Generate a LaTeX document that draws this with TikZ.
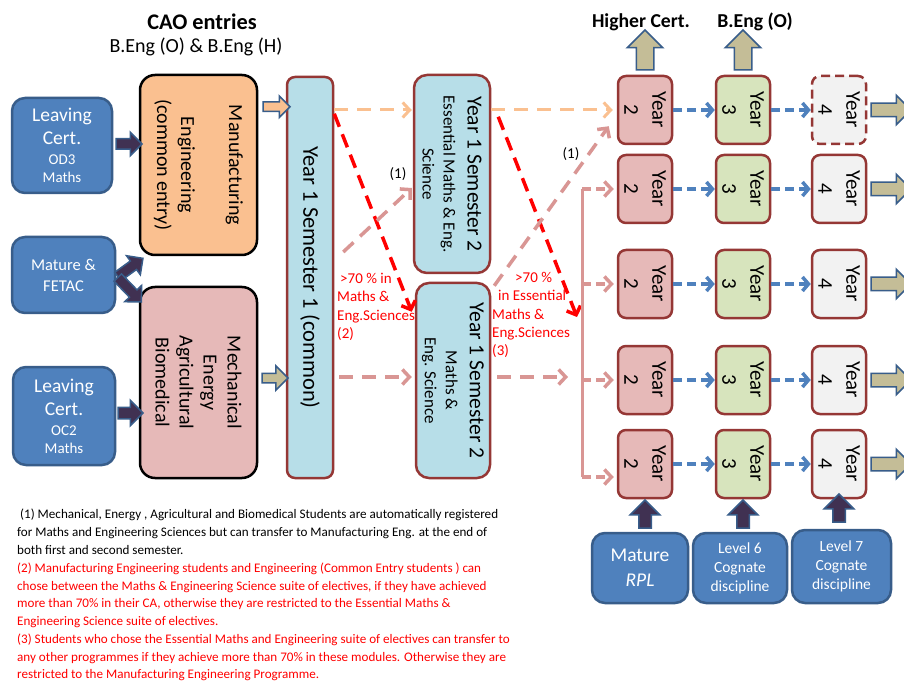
\documentclass[tikz,border=0pt]{standalone}
\usepackage{fontspec}
\setmainfont{Carlito}
\usetikzlibrary{arrows.meta,shapes.arrows,calc}
\definecolor{bfill}{HTML}{4F81BD}
\definecolor{bdraw}{HTML}{385D8A}
\definecolor{dpurp}{HTML}{403152}
\definecolor{tanf}{HTML}{C4BD97}
\definecolor{orf}{HTML}{FAC090}
\definecolor{pinkf}{HTML}{E6B9B8}
\definecolor{lblue}{HTML}{B7DEE8}
\definecolor{dred}{HTML}{953735}
\definecolor{grnf}{HTML}{D7E4BD}
\definecolor{gryf}{HTML}{F2F2F2}
\definecolor{pinkl}{HTML}{D99694}
\definecolor{redt}{HTML}{FF0000}
\newcommand{\smallfs}{\fontsize{15}{18}\selectfont}
\newcommand{\semfs}{\fontsize{17}{21}\selectfont}
\tikzset{
 bluebox/.style={draw=bdraw, fill=bfill, line width=2.5pt, rounded corners=13pt, text=white, align=center, inner sep=0pt},
 progbox/.style={draw=black, line width=2.5pt, rounded corners=15pt, inner sep=0pt},
 semb/.style={draw=dred, fill=lblue, line width=2.5pt, inner sep=0pt},
 ybox/.style={draw=dred, line width=2.5pt, rounded corners=8pt, minimum width=54pt, minimum height=68pt, inner sep=0pt},
 ytext/.style={rotate=-90, align=center, inner sep=0pt, font=\fontsize{21}{28}\selectfont},
 rtext/.style={rotate=-90, align=center, inner sep=0pt},
 blk/.style={single arrow, draw=bdraw, line width=1.5pt, inner xsep=0pt, single arrow tip angle=90, anchor=tail, minimum width=0pt},
 barb/.style={-{Straight Barb[length=7pt,width=15pt]}},
 odash/.style={draw=orf, line width=3pt, dash pattern=on 14pt off 9pt, barb},
 rdash/.style={draw=redt, line width=3.5pt, dash pattern=on 14pt off 8pt, barb},
 pdash/.style={draw=pinkl, line width=3.5pt, dash pattern=on 14pt off 9pt, barb},
 sdash/.style={draw=pinkl, line width=3.5pt, dash pattern=on 9pt off 5pt, barb, shorten >=3pt},
 bldash/.style={draw=bfill, line width=3.5pt, dash pattern=on 9pt off 5pt, -{Straight Barb[length=6pt,width=14pt]}},
 notes/.style={anchor=base west, inner sep=0pt, font=\fontsize{13.1}{16}\selectfont},
 redlab/.style={text=redt, align=left, inner sep=0pt, font=\fontsize{15}{18.3}\selectfont}
}
\begin{document}
\begin{tikzpicture}[x=1pt,y=-1pt]
\clip (0,0) rectangle (904,684);
\fill[white] (0,0) rectangle (904,684);

% titles
\node[font=\fontsize{22.3}{26}\selectfont\bfseries] (cao) at (202,22) {CAO entries};
\node[font=\fontsize{20}{24}\selectfont] (beng) at (196,47) {B.Eng (O) \& B.Eng (H)};
\node[font=\fontsize{19.7}{23}\selectfont\bfseries] (hc) at (641,22) {Higher Cert.};
\node[font=\fontsize{19.7}{23}\selectfont\bfseries] (bo) at (755,22) {B.Eng (O)};

% entry boxes
\node[bluebox, font=\fontsize{19.5}{23}\selectfont, minimum width=100pt, minimum height=95pt] (lc1) at (62,145.5) {Leaving\\Cert.\\[-3pt]\smallfs OD3\\[-5pt]\smallfs Maths};
\node[bluebox, font=\fontsize{16.5}{21}\selectfont, minimum width=103pt, minimum height=76pt] (mat) at (63.5,275) {Mature \&\\FETAC};
\node[bluebox, font=\fontsize{19.5}{23}\selectfont, minimum width=102pt, minimum height=98pt] (lc2) at (64,416) {Leaving\\Cert.\\[-3pt]\smallfs OC2\\[-5pt]\smallfs Maths};

% programme boxes
\node[progbox, fill=orf, minimum width=117pt, minimum height=180pt] (man) at (198.5,165) {};
\node[rtext, font=\fontsize{20}{24}\selectfont] (mant) at (man) {Manufacturing\\[24pt]Engineering\\(common entry)};
\node[progbox, fill=pinkf, minimum width=117pt, minimum height=191pt] (mech) at (198.5,382.5) {};
\node[rtext, font=\fontsize{20}{24}\selectfont] (mecht) at (mech) {Mechanical\\Energy\\Agricultural\\Biomedical};

% semesters
\node[semb, rounded corners=8pt, minimum width=46pt, minimum height=401pt] (s1) at (310,277.5) {};
\node[rtext, font=\fontsize{22.5}{26}\selectfont] (s1t) at (s1) {Year 1 Semester 1 (common)};
\node[semb, rounded corners=13pt, minimum width=76pt, minimum height=198pt] (s2a) at (452,174) {};
\node[rtext, font=\fontsize{21.5}{24}\selectfont] (s2at) at (s2a) {Year 1 Semester 2\\\semfs Essential Maths \& Eng.\\[-3pt]\semfs Science};
\node[semb, rounded corners=13pt, minimum width=74pt, minimum height=195pt] (s2b) at (453,380.5) {};
\node[rtext, font=\fontsize{21.5}{24}\selectfont] (s2bt) at (s2b) {Year 1 Semester 2\\\semfs Maths \&\\[-3pt]\semfs Eng. Science};

% year boxes
\foreach \r/\yy in {1/110,2/189,3/284,4/380,5/464}{
  \node[ybox, fill=pinkf] (y2\r) at (645,\yy) {};
  \node[ytext] (t2\r) at (y2\r) {Year\\2};
  \node[ybox, fill=grnf] (y3\r) at (743,\yy) {};
  \node[ytext] (t3\r) at (y3\r) {Year\\3};
  \draw[bldash] (y2\r) -- (y3\r);
}
\node[ybox, fill=gryf, dash pattern=on 9pt off 5pt] (y41) at (839,110) {};
\node[ytext] (t41) at (y41) {Year\\4};
\foreach \r/\yy in {2/189,3/284,4/380,5/464}{
  \node[ybox, fill=gryf] (y4\r) at (839,\yy) {};
  \node[ytext] (t4\r) at (y4\r) {Year\\4};
}
\foreach \r in {1,...,5}{
  \draw[bldash] (y3\r) -- (y4\r);
  \node[blk, fill=tanf, inner ysep=6pt, single arrow head extend=8pt, minimum height=40pt] (ra\r) at ($(y4\r.east)+(3,0)$) {};
}

% bottom entry boxes
\node[bluebox, font=\fontsize{19.5}{25}\selectfont, minimum width=96pt, minimum height=70pt] (mr) at (640,568) {Mature\\\textit{RPL}};
\node[bluebox, font=\fontsize{15.5}{19}\selectfont, minimum width=94pt, minimum height=70pt] (l6) at (740,568) {Level 6\\Cognate\\discipline};
\node[bluebox, font=\fontsize{15.5}{19}\selectfont, minimum width=99pt, minimum height=73pt] (l7) at (841.5,566.5) {Level 7\\Cognate\\discipline};

% block arrows
\node[blk, fill=dpurp, inner ysep=4.5pt, single arrow head extend=6.5pt, minimum height=26pt] (a1) at ($(lc1.east)+(2,-1.5)$) {};
\node[blk, fill=dpurp, inner ysep=5pt, single arrow head extend=7pt, minimum height=25pt] (a2) at ($(lc2.east)+(1,-3)$) {};
\node[blk, fill=dpurp, inner ysep=4.5pt, single arrow head extend=6.5pt, minimum height=31pt, rotate=36] (a3) at ($(mat.east)+(1,2)$) {};
\node[blk, fill=dpurp, inner ysep=4.5pt, single arrow head extend=6.5pt, minimum height=34pt, rotate=-46] (a4) at ($(mat.east)+(1,2)$) {};
\node[blk, fill=orf, inner ysep=4pt, single arrow head extend=6pt, minimum height=27pt] (a5) at ($(man.north east)+(4,33)$) {};
\node[blk, fill=tanf, inner ysep=4pt, single arrow head extend=7.5pt, minimum height=26pt] (a6) at ($(mech.east)+(3,-4.5)$) {};
\node[blk, fill=tanf, inner ysep=8pt, single arrow head extend=9pt, minimum height=40pt, rotate=90] (u1) at ($(y21.north)+(0,-4)$) {};
\node[blk, fill=tanf, inner ysep=8pt, single arrow head extend=9pt, minimum height=40pt, rotate=90] (u2) at ($(y31.north)+(0,-4)$) {};
\node[blk, fill=dpurp, inner ysep=5.5pt, single arrow head extend=8.5pt, minimum height=28pt, rotate=90] (b1) at ($(y25.south|-mr.north)+(0,-3)$) {};
\node[blk, fill=dpurp, inner ysep=5.5pt, single arrow head extend=8.5pt, minimum height=28pt, rotate=90] (b2) at ($(y35.south|-l6.north)+(0,-3)$) {};
\node[blk, fill=dpurp, inner ysep=5.5pt, single arrow head extend=8.5pt, minimum height=28pt, rotate=90] (b3) at ($(y45.south|-l7.north)+(0,-6)$) {};

% dashed transitions
\draw[odash] (s1.east|-y21.west) -- ($(s2a.west|-y21.west)+(-1,0)$);
\draw[odash] (s2a.east|-y21.west) -- ($(y21.west)+(-4,0)$);
\draw[rdash] ($(s1.north east)+(0,38)$) -- ($(s2b.north west)+(-3,30)$);
\draw[rdash] ($(s2a.north east)+(7,43)$) -- (577,317);
\draw[pdash] ($(s1.east)+(9,-25.5)$) -- ($(s2a.west)+(-1,14)$);
\draw[pdash] ($(s1.east|-s2b.west)+(5,-3.5)$) -- ($(s2b.west)+(-3,-3.5)$);
\draw[pdash] ($(s2b.east)+(6,-3.5)$) -- (568,377);
\draw[pdash] ($(s2b.north east)+(3,4)$) -- ($(y21.south west)+(-8,-19)$);
\coordinate (brt) at (582,189);
\coordinate (brb) at (582,477);
\draw[draw=pinkl, line width=3pt] (brt) -- (brb);
\draw[sdash] (brt) -- (y22.west);
\draw[sdash] (brt|-y23.west) -- (y23.west);
\draw[sdash] (brt|-y24.west) -- (y24.west);
\draw[sdash] (brb) -- (y25.west|-brb);

% labels
\node[font=\fontsize{15}{18}\selectfont, inner sep=0pt] (o1) at (398,174) {(1)};
\node[font=\fontsize{15}{18}\selectfont, inner sep=0pt] (o2) at (571,154) {(1)};
\node[redlab, anchor=north west] (r2) at (337,273) {\hspace*{3pt}>70 \% in\\Maths \&\\Eng.Sciences\\(2)};
\node[redlab, anchor=north west] (r3) at (492,272) {\hspace*{23pt}>70 \%\\\hspace*{6pt}in Essential\\Maths \&\\Eng.Sciences\\(3)};

% notes
\node[notes] (n1) at (17,518) {\hspace*{3pt}(1) Mechanical, Energy , Agricultural and Biomedical Students are automatically registered};
\node[notes] (n2) at (17,536) {for Maths and Engineering Sciences but can transfer to Manufacturing Eng. at the end of};
\node[notes] (n3) at (17,554) {both first and second semester.};
\node[notes, text=redt] (n4) at (17,572) {(2) Manufacturing Engineering students and Engineering (Common Entry students ) can};
\node[notes, text=redt] (n5) at (17,590) {chose between the Maths \& Engineering Science suite of electives, if they have achieved};
\node[notes, text=redt] (n6) at (17,607.5) {more than 70\% in their CA, otherwise they are restricted to the Essential Maths \&};
\node[notes, text=redt] (n7) at (17,625.5) {Engineering Science suite of electives.};
\node[notes, text=redt] (n8) at (17,643) {(3) Students who chose the Essential Maths and Engineering suite of electives can transfer to};
\node[notes, text=redt] (n9) at (17,661) {any other programmes if they achieve more than 70\% in these modules. Otherwise they are};
\node[notes, text=redt] (n10) at (17,678.5) {restricted to the Manufacturing Engineering Programme.};
\end{tikzpicture}
\end{document}
